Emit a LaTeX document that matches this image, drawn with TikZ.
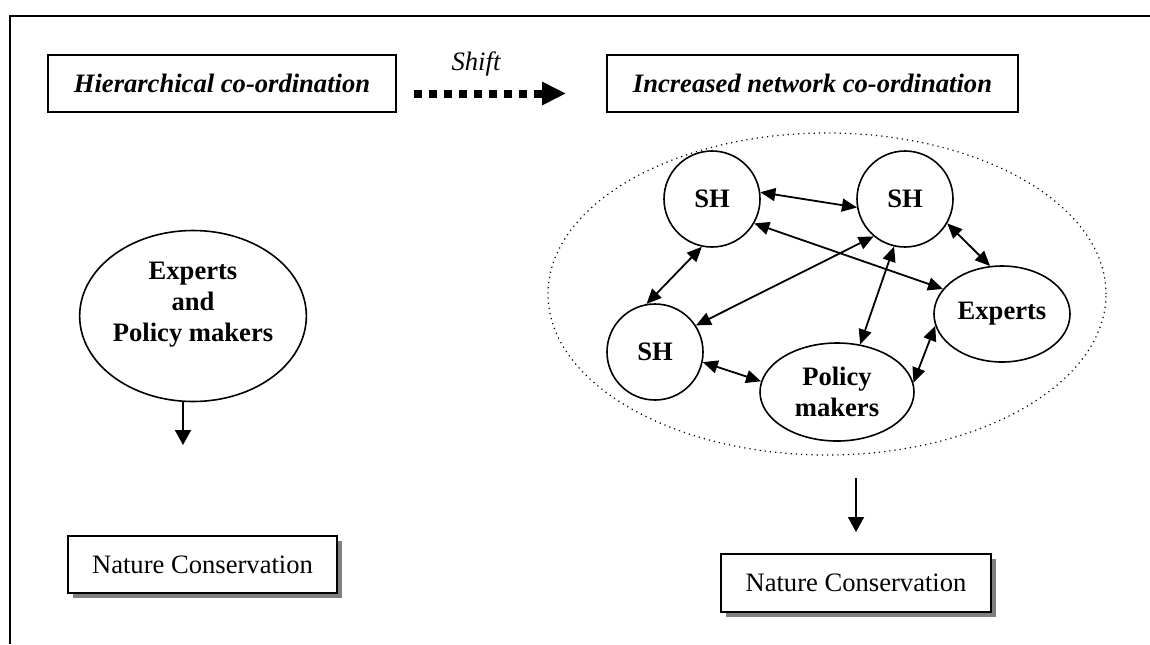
\documentclass[tikz,border=0pt]{standalone}
\usepackage{fontspec}
\setmainfont{Liberation Serif}
\usetikzlibrary{arrows.meta,shapes.geometric,shadows}

\begin{document}
\begin{tikzpicture}[x=0.5pt, y=-0.5pt, >={Triangle[length=7.5pt,width=6.5pt]},
  every node/.style={font=\fontsize{13.3}{15.5}\selectfont},
  head/.style={draw, line width=1pt, minimum height=28.5pt, font=\fontsize{13.3}{15.5}\selectfont\bfseries\itshape},
  sh/.style={draw, circle, minimum size=48pt, line width=0.8pt, font=\fontsize{13.3}{15.5}\selectfont\bfseries},
  ell/.style={draw, ellipse, line width=0.8pt, align=center, inner sep=0pt, font=\fontsize{13.3}{15.5}\selectfont\bfseries},
  nc/.style={draw, fill=white, line width=1pt, minimum width=134.5pt, minimum height=28.5pt, drop shadow={shadow xshift=2.5pt, shadow yshift=-2.5pt, fill=black!50, opacity=1}},
  link/.style={<->, line width=0.9pt},
  down/.style={->, line width=0.9pt, >={Triangle[length=7.5pt,width=8pt]}},
  shiftarr/.style={-{Triangle[length=12pt,width=11pt]}, line width=4pt, dash pattern=on 4pt off 3.5pt, shorten <=8.5pt, shorten >=20pt}]
  \useasboundingbox (0,0) rectangle (1150,644);
  % frame
  \draw[line width=1pt] (10,644) -- (10,16) -- (1150,16);
  % top row
  \node[head, minimum width=174pt] (hier) at (222,83.5) {Hierarchical co-ordination};
  \node[head, minimum width=205.5pt] (net) at (812.5,83.5) {Increased network co-ordination};
  \node[font=\fontsize{13.3}{15.5}\selectfont\itshape, anchor=base] (shift) at (476,70) {Shift};
  \draw[shiftarr] ([yshift=-5pt]hier.east) -- ([yshift=-5pt]net.west);
  % left: hierarchy
  \node[ell, minimum width=106pt, minimum height=85.5pt] (expol) at (193,316) {\begin{tabular}{@{}c@{}}Experts\\and\\Policy makers\rule[-16pt]{0pt}{16pt}\end{tabular}};
  \node[nc] (ncl) at (202.5,564.5) {Nature Conservation};
  \draw[down, shorten >=45pt] ([xshift=-5pt]expol.south) -- ([xshift=-5pt]expol.south |- ncl.north);
  % right: network
  \node[draw, ellipse, dotted, line width=0.6pt, minimum width=279pt, minimum height=161pt] (cloud) at (827,294) {};
  \node[sh] (sha) at (712,199) {SH};
  \node[sh] (shb) at (905,199) {SH};
  \node[sh] (shc) at (655,352) {SH};
  \node[ell, minimum width=68pt, minimum height=48pt] (exp) at (1002,314) {Experts};
  \node[ell, minimum width=77pt, minimum height=49pt] (pol) at (837,392) {Policy\\makers};
  \draw[link] (sha.8) -- (shb.190);
  \draw[link] (sha.330) -- (exp.157);
  \draw[link] (shb.230) -- (shc.33);
  \draw[link] (shb.257) -- (pol.64);
  \draw[link] (shb.330) -- (exp.104);
  \draw[link] (sha.258) -- (shc.100);
  \draw[link] (shc.348) -- (pol.172);
  \draw[link] (pol.7) -- (exp.190);
  \node[nc, minimum width=135pt, minimum height=29pt] (ncr) at (856,583) {Nature Conservation};
  \draw[down, shorten <=11pt, shorten >=10.5pt] (cloud.south -| ncr.north) -- (ncr.north);
\end{tikzpicture}
\end{document}
